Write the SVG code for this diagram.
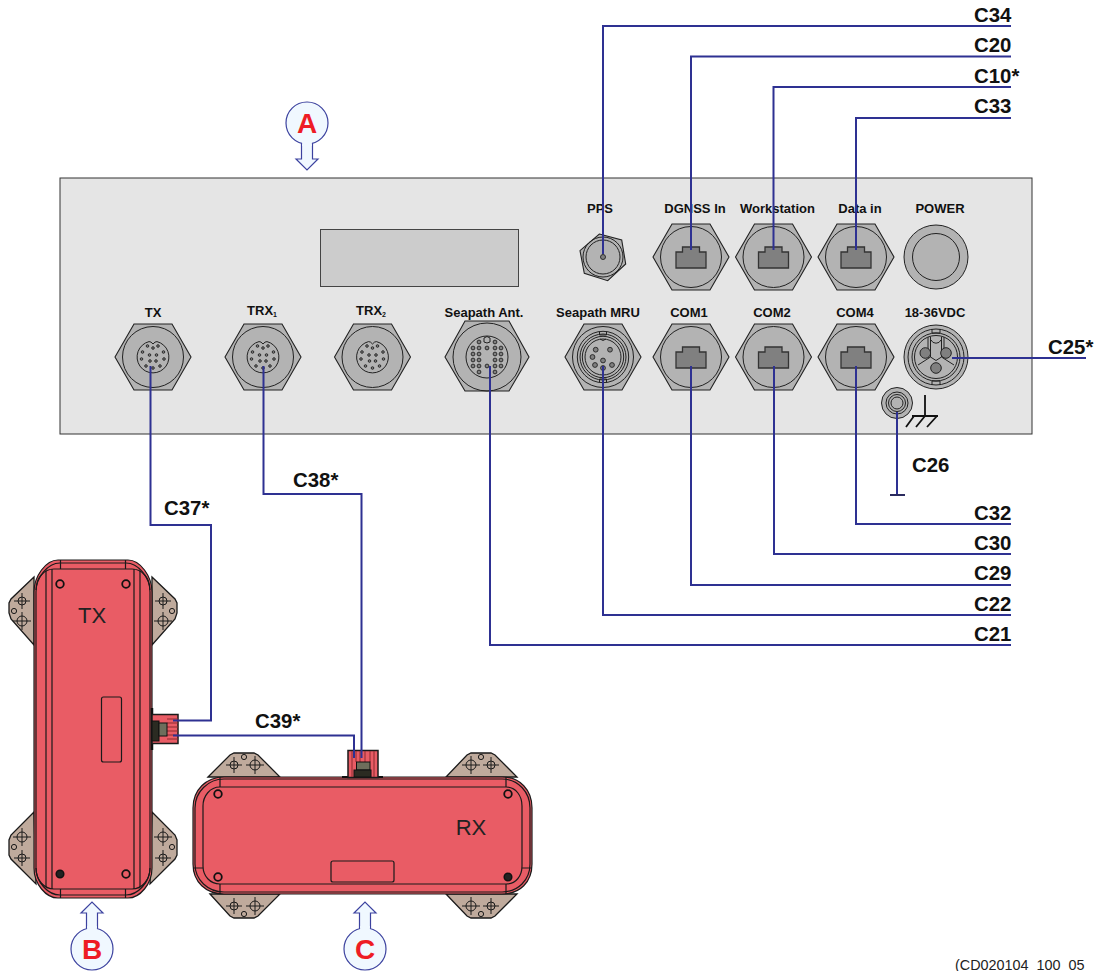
<svg xmlns="http://www.w3.org/2000/svg" xmlns:xlink="http://www.w3.org/1999/xlink" width="1099" height="971" viewBox="0 0 1099 971">
<style>
.bg{fill:#fff}
.panel{fill:#e5e5e5;stroke:#333;stroke-width:1}
.hex{fill:#b3b3b3;stroke:#222;stroke-width:1.1}
.l{fill:none;stroke:#222;stroke-width:1}
.g{fill:#b3b3b3;stroke:#222;stroke-width:1}
.rj{fill:#808080;stroke:#333;stroke-width:1.3}
.pin{fill:#808080;stroke:#222;stroke-width:.9}
.pl{font:bold 13px "Liberation Sans",Arial,sans-serif;fill:#111;text-anchor:middle}
.sub{font:bold 7px "Liberation Sans",Arial,sans-serif}
.cl{font:bold 20.4px "Liberation Sans",Arial,sans-serif;fill:#111}
.conn{fill:none;stroke:#2e3192;stroke-width:2}
.body{fill:#e95c65;stroke:#1a1a1a;stroke-width:1.2}
.shell{fill:none;stroke:#1a1a1a;stroke-width:1.2}
.ear{fill:#bfaa9c;stroke:#1a1a1a;stroke-width:1.3}
.eh{fill:none;stroke:#1a1a1a;stroke-width:1}
.scr{fill:none;stroke:#111;stroke-width:1.8}
.scd{fill:#222;stroke:#111;stroke-width:1.5}
.ut{font:22px "Liberation Sans",Arial,sans-serif;fill:#222;text-anchor:middle}
.co{fill:#f0f8ff;stroke:#3c429f;stroke-width:1.2}
.cot{font:bold 28px "Liberation Sans",Arial,sans-serif;fill:#ee1c25;text-anchor:middle}
.dk{fill:#2b2b22;stroke:#111;stroke-width:1}
.ol{fill:#6e6e5c;stroke:#111;stroke-width:1}
.st{fill:none;stroke:#8c2a30;stroke-width:1}
</style>
<defs>
<g id="hx"><polygon class="hex" points="-38,0 -19,-33 19,-33 38,0 19,33 -19,33"/><circle class="l" r="30.5"/></g>
<g id="rj45"><use xlink:href="#hx"/><path class="rj" d="M-15,-5 H-8.5 V-10 H8.5 V-5 H15 V11 H-15 Z"/></g>
<g id="m12">
<use xlink:href="#hx"/>
<path class="l" d="M-4,-15.4 A15.9,15.9 0 1 0 4,-15.4 Q2,-15.6 0,-13 Q-2,-15.6 -4,-15.4 Z"/>
<g class="pin">
<circle cx="-5.500" cy="-11" r="1.300"/><circle cx="5" cy="-11" r="1.300"/>
<circle cx="0" cy="-9" r="1.300"/><circle cx="-10.500" cy="-5" r="1.300"/><circle cx="10.500" cy="-5" r="1.300"/>
<circle cx="-3.500" cy="-2" r="1.300"/><circle cx="3.500" cy="-2" r="1.300"/>
<circle cx="-11.500" cy="2" r="1.300"/><circle cx="11" cy="2" r="1.300"/>
<circle cx="-3" cy="4" r="1.300"/><circle cx="3" cy="4" r="1.300"/>
<circle cx="-7" cy="9" r="1.300"/><circle cx="7" cy="9" r="1.300"/><circle cx="0" cy="11" r="1.300"/>
</g>
</g>
<g id="xh1"><circle class="eh" r="4"/><path class="eh" d="M-8,0H8M0,-8V8"/></g>
<g id="xh2"><circle class="eh" r="5"/><path class="eh" d="M-9,0H9M0,-9V9"/></g>
<circle id="small" class="eh" r="2.600"/>
<g id="arrowU"><path class="co" d="M-5.500,30 V11 H-11 L0,0 L11,11 H5.500 V30 Z"/><circle class="co" cy="47" r="21"/><rect x="-4.900" y="24" width="9.800" height="6" fill="#f0f8ff"/></g>
</defs>
<rect class="bg" width="1099" height="971"/>

<g id="panel-a">
<rect class="panel" x="60" y="178" width="972" height="256"/>
<rect x="320.500" y="229.500" width="198" height="57" fill="#cccccc" stroke="#444" stroke-width="1"/>
</g>

<g id="port-pps"><text class="pl" x="600" y="213">PPS</text>
<polygon class="hex" points="599.300,234 621.700,240 625.700,264 607.700,280.700 584.300,273.300 580,250.700"/><circle class="l" cx="603" cy="257" r="20"/><circle class="l" cx="603" cy="257" r="17"/><circle class="pin" cx="603" cy="257" r="2.500"/></g>
<g id="port-dgnss"><text class="pl" x="695" y="213">DGNSS In</text><use xlink:href="#rj45" x="691" y="257"/></g>
<g id="port-workstation"><text class="pl" x="777.500" y="213">Workstation</text><use xlink:href="#rj45" x="773.500" y="257"/></g>
<g id="port-datain"><text class="pl" x="860" y="213">Data in</text><use xlink:href="#rj45" x="856" y="257"/></g>
<g id="port-power"><text class="pl" x="940" y="213">POWER</text><circle class="g" cx="936" cy="257" r="32"/><circle class="l" cx="936" cy="257" r="23.500"/></g>

<g id="port-tx"><text class="pl" x="153" y="317">TX</text><use xlink:href="#m12" x="153" y="357"/></g>
<g id="port-trx1"><text class="pl" x="262" y="315">TRX<tspan class="sub" dy="2">1</tspan></text><use xlink:href="#m12" x="263" y="357"/></g>
<g id="port-trx2"><text class="pl" x="371" y="315">TRX<tspan class="sub" dy="2">2</tspan></text><use xlink:href="#m12" x="372.500" y="357"/></g>
<g id="port-seapath-ant"><text class="pl" x="484" y="317">Seapath Ant.</text>
<polygon class="hex" points="445,357 465,321 509,321 529,357 509,391 465,391"/><circle class="l" cx="487" cy="357" r="34"/><circle class="l" cx="487" cy="357" r="21"/>
<g transform="translate(487,357)"><path class="l" d="M-3,-15 V-19 Q0,-22 3,-19 V-15 Q0,-13 -3,-15 Z"/>
<g class="pin">
<circle cx="-14" cy="-9" r="1.900"/><circle cx="-14" cy="-3" r="1.900"/><circle cx="-14" cy="3" r="1.900"/><circle cx="-14" cy="9" r="1.900"/>
<circle cx="-8" cy="-15" r="1.900"/><circle cx="-8" cy="-9" r="1.900"/><circle cx="-8" cy="-3" r="1.900"/><circle cx="-8" cy="3" r="1.900"/><circle cx="-8" cy="9" r="1.900"/><circle cx="-8" cy="15" r="1.900"/>
<circle cx="0" cy="-9" r="1.900"/><circle cx="0" cy="9" r="1.900"/>
<circle cx="8" cy="-15" r="1.900"/><circle cx="8" cy="-9" r="1.900"/><circle cx="8" cy="-3" r="1.900"/><circle cx="8" cy="3" r="1.900"/><circle cx="8" cy="9" r="1.900"/><circle cx="8" cy="15" r="1.900"/>
<circle cx="14" cy="-9" r="1.900"/><circle cx="14" cy="-3" r="1.900"/><circle cx="14" cy="3" r="1.900"/><circle cx="14" cy="9" r="1.900"/>
</g></g></g>
<g id="port-seapath-mru"><text class="pl" x="598" y="317">Seapath MRU</text><use xlink:href="#hx" x="603" y="357"/>
<g transform="translate(603,357)"><circle class="l" r="25.700" stroke-width="1.300"/><circle class="l" r="23" stroke-width="1.300"/><circle class="l" r="20.700" stroke-width="1.300"/><circle class="l" r="18"/>
<path class="l" d="M-3.500,-25.500V-22H3.500V-25.500M-3.500,25.500V22H3.500V25.500"/>
<path class="l" d="M-3,-18 Q0,-15 3,-18"/>
<g class="pin"><circle cx="-7.300" cy="-7.300" r="2.400"/><circle cx="7" cy="-7.300" r="2.400"/><circle cx="-10.500" cy="0" r="2.400"/><circle cx="0" cy="3.500" r="2.400"/><circle cx="-8" cy="8" r="2.400"/><circle cx="9" cy="8" r="2.400"/><circle cx="0" cy="11" r="2.400"/></g></g></g>
<g id="port-com1"><text class="pl" x="689" y="317">COM1</text><use xlink:href="#rj45" x="691" y="357"/></g>
<g id="port-com2"><text class="pl" x="772" y="317">COM2</text><use xlink:href="#rj45" x="773.500" y="357"/></g>
<g id="port-com4"><text class="pl" x="855" y="317">COM4</text><use xlink:href="#rj45" x="856" y="357"/></g>
<g id="port-vdc"><text class="pl" x="935" y="317">18-36VDC</text>
<g transform="translate(936,357)"><circle class="g" r="32"/><circle class="l" r="28"/><circle class="l" r="24"/><circle class="l" r="21.500" stroke-width="1.600"/>
<path class="l" d="M-4,-28V-24H4V-28M-4,28V24H4V28"/>
<path class="l" d="M-5,-17 A5.500,5.500 0 0 0 5,-17"/>
<path class="l" stroke-width="1.300" d="M-5.500,-20 V0 L-18,8 M5.500,-20 V0 L18,8 M-8,-20 V1 M8,-20 V1 M-5.500,0 L0,3.500 L5.500,0"/>
<circle r="5.300" cx="-10.700" cy="-4" fill="#808080" stroke="#222"/><circle r="5.300" cx="10" cy="-4" fill="#808080" stroke="#222"/><circle r="5.300" cx="0" cy="11" fill="#808080" stroke="#222"/></g></g>
<g id="port-ground"><circle cx="897" cy="403" r="15.500" fill="#b3b3b3" stroke="#222"/><circle class="l" cx="897" cy="403" r="11"/><circle class="l" cx="897" cy="403" r="8.500"/><circle class="g" cx="897" cy="403" r="6"/>
<path d="M925,395V416M912,416H938M914,416L906,427M925,416L916,427M937,416L927,427" fill="none" stroke="#111" stroke-width="1.800"/></g>

<g id="unit-tx">
<polygon class="ear" points="34,577 11,599 9,603 9,613 11,619 34,645"/>
<polygon class="ear" points="152,577 175,599 177,603 177,613 175,619 152,645"/>
<polygon class="ear" points="34,812 11,835 9,840 9,855 11,859 36,884"/>
<polygon class="ear" points="152,812 175,835 177,840 177,855 175,859 150,884"/>
<use xlink:href="#xh1" x="22" y="601"/><use xlink:href="#xh2" x="22" y="621"/><use xlink:href="#small" x="14" y="611"/>
<use xlink:href="#xh1" x="163" y="601"/><use xlink:href="#xh2" x="163" y="621"/><use xlink:href="#small" x="172" y="611"/>
<use xlink:href="#xh2" x="22" y="837"/><use xlink:href="#xh1" x="22" y="858"/><use xlink:href="#small" x="14" y="847"/>
<use xlink:href="#xh2" x="163" y="837"/><use xlink:href="#xh1" x="163" y="858"/><use xlink:href="#small" x="172" y="847"/>
<path class="body" stroke-width="1.600" d="M34,592 C34,576 46,560 58,560 H128 C140,560 152,576 152,592 V868 C152,884 140,898 128,898 H58 C46,898 34,884 34,868 Z"/>
<path class="shell" d="M36,592 C36,577 48,563 60,563 H126 C138,563 150,577 150,592 V868 C150,882 138,895 126,895 H60 C48,895 36,882 36,868 Z"/>
<path class="shell" d="M36,590 C36,578 44,569 54,569 H132 C142,569 150,578 150,590 M36,868 C36,880 44,889 54,889 H132 C142,889 150,880 150,868"/>
<path class="shell" d="M46,571 V887 M140,571 V887 M52,569 V889 M134,569 V889 M60.500,560 V569 M125.500,560 V569 M60.500,889 V898 M125.500,889 V898"/>
<rect class="shell" x="101.500" y="697" width="20" height="65" rx="2"/>
<circle class="scr" cx="60" cy="584" r="3.800"/><circle class="scr" cx="126" cy="584" r="3.800"/><circle class="scd" cx="60" cy="874" r="3.800"/><circle class="scr" cx="126" cy="874" r="3.800"/>
<text class="ut" x="92" y="623">TX</text>
<path d="M152,708V750" stroke="#111" stroke-width="2.500"/>
<rect x="152" y="714.500" width="26" height="29" fill="#e95c65" stroke="#1a1a1a" stroke-width="1.500"/>
<path class="st" d="M167,719H178M167,723H178M167,727H178M167,731H178M167,735H178M167,739H178"/>
<rect class="dk" x="152" y="721" width="7" height="20"/><rect class="ol" x="159" y="723" width="8" height="13"/>
</g>

<g id="unit-rx">
<polygon class="ear" points="208,777 230,755 234,753 254,753 258,755 280,777"/>
<polygon class="ear" points="210,894 230,916 234,918 254,918 258,916 280,894"/>
<polygon class="ear" points="446,777 467,755 471,753 491,753 495,755 517,777"/>
<polygon class="ear" points="446,894 467,916 471,918 491,918 495,916 517,894"/>
<use xlink:href="#xh1" x="234" y="765"/><use xlink:href="#xh2" x="255" y="765"/><use xlink:href="#small" x="244" y="757"/>
<use xlink:href="#xh1" x="234" y="906"/><use xlink:href="#xh2" x="255" y="906"/><use xlink:href="#small" x="244" y="914"/>
<use xlink:href="#xh2" x="471" y="765"/><use xlink:href="#xh1" x="491" y="765"/><use xlink:href="#small" x="481" y="757"/>
<use xlink:href="#xh2" x="471" y="906"/><use xlink:href="#xh1" x="491" y="906"/><use xlink:href="#small" x="481" y="914"/>
<path class="body" stroke-width="1.600" d="M193,808 C193,790 206,777 224,777 H502 C520,777 532,790 532,808 V864 C532,882 520,894 502,894 H224 C206,894 193,882 193,864 Z"/>
<path class="shell" d="M195,808 C195,792 208,779 224,779 H502 C518,779 530,792 530,808 V864 C530,880 518,892 502,892 H224 C208,892 195,880 195,864 Z"/>
<path class="shell" d="M220,787 H506 C516,787 522,796 522,806 V866 C522,876 516,884 506,884 H220 C210,884 203,876 203,866 V806 C203,796 210,787 220,787 Z"/>
<path class="shell" d="M220,777 V787 M220,884 V894 M506,777 V787 M506,884 V894 M193,868 H203 M522,868 H532"/>
<rect class="shell" x="331" y="861" width="63" height="21" rx="2"/>
<circle class="scr" cx="218" cy="794" r="3.800"/><circle class="scr" cx="218" cy="877" r="3.800"/><circle class="scr" cx="508" cy="794" r="3.800"/><circle class="scd" cx="508" cy="877" r="3.800"/>
<text class="ut" x="471" y="835">RX</text>
<path d="M342,777H383" stroke="#111" stroke-width="2"/>
<rect x="348" y="750.500" width="30" height="27" fill="#e95c65" stroke="#1a1a1a" stroke-width="1.500"/>
<path class="st" d="M352,751V777M356,751V762M360,751V762M365,751V762M370,751V762M374,751V777"/>
<rect class="ol" x="356.500" y="762" width="13.500" height="8"/><rect class="dk" x="354" y="770" width="17" height="7"/>
</g>

<g id="connectors">
<path class="conn" d="M603,254V26H1011"/>
<path class="conn" d="M691,250V56.500H1011"/>
<path class="conn" d="M773.500,250V87H1011"/>
<path class="conn" d="M856,250V118H1011"/>
<path class="conn" d="M952,358H1086"/>
<path class="conn" d="M897,412V495"/>
<path d="M890,495H905" fill="none" stroke="#2b2b5e" stroke-width="2"/>
<path class="conn" d="M856,366V524H1011"/>
<path class="conn" d="M774,366V554H1011"/>
<path class="conn" d="M691,366V585H1011"/>
<path class="conn" d="M603,366V615H1011"/>
<path class="conn" d="M490,366V645H1011"/>
<path class="conn" d="M150.500,366V525H211V720.500H173"/>
<path class="conn" d="M263.500,366V494H361.500V758"/>
<path class="conn" d="M173,735.500H354V758"/>
</g>

<g id="connector-labels">
<text class="cl" x="974" y="22">C34</text><text class="cl" x="974" y="52">C20</text><text class="cl" x="974" y="83">C10*</text><text class="cl" x="974" y="113">C33</text>
<text class="cl" x="1048" y="354">C25*</text><text class="cl" x="912" y="472">C26</text>
<text class="cl" x="974" y="520">C32</text><text class="cl" x="974" y="550">C30</text><text class="cl" x="974" y="580">C29</text><text class="cl" x="974" y="611">C22</text><text class="cl" x="974" y="641">C21</text>
<text class="cl" x="164" y="515">C37*</text><text class="cl" x="293" y="487">C38*</text><text class="cl" x="255" y="728">C39*</text>
</g>

<g id="callout-a"><use xlink:href="#arrowU" transform="translate(307,170) scale(1,-1)"/><text class="cot" x="307" y="133">A</text></g>
<g id="callout-b"><use xlink:href="#arrowU" x="92" y="902"/><text class="cot" x="92" y="959">B</text></g>
<g id="callout-c"><use xlink:href="#arrowU" x="365" y="902"/><text class="cot" x="365" y="959">C</text></g>
<text id="ref" x="955" y="970" font-family="'Liberation Sans',Arial,sans-serif" font-size="14.400" fill="#222">(CD020104_100_05</text>
</svg>
